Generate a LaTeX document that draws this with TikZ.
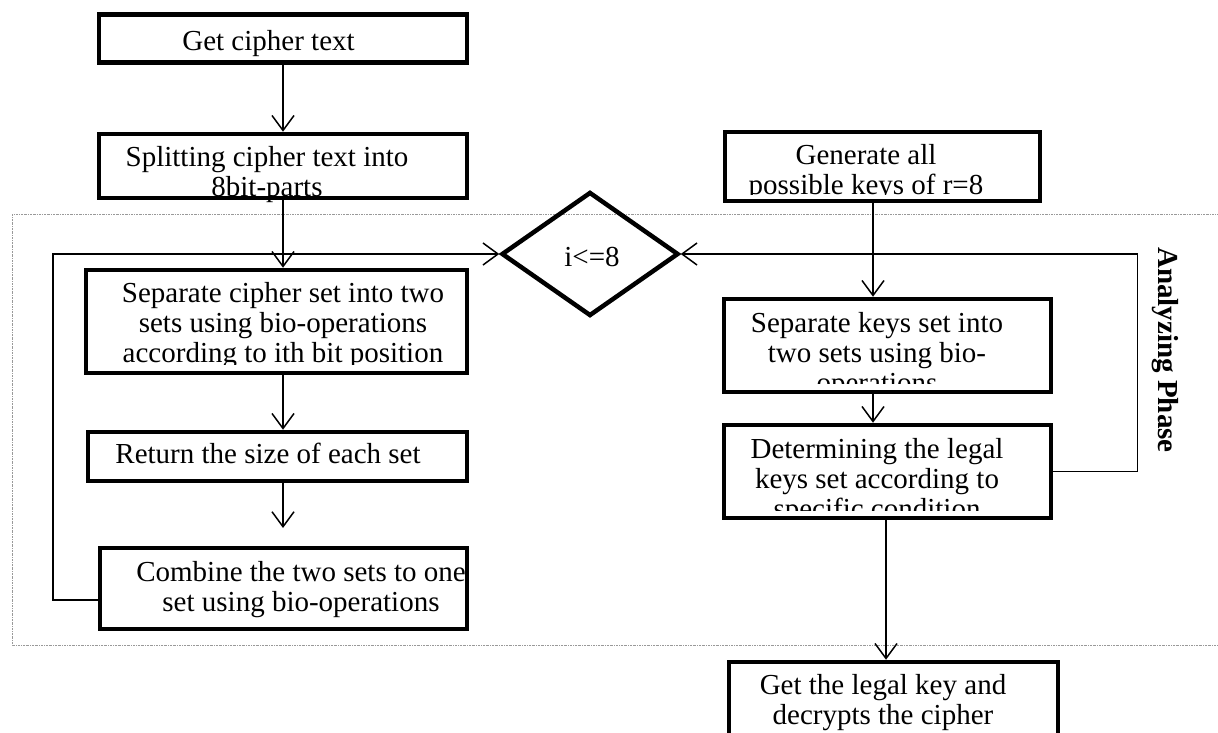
\documentclass[tikz,border=0pt]{standalone}
\usepackage{fontspec}
\setmainfont{Liberation Serif}
\usetikzlibrary{arrows.meta,shapes.geometric}
\begin{document}
\begin{tikzpicture}[x=1pt,y=-1pt,
  boxst/.style={draw, line width=4.5pt, inner sep=0pt, rectangle},
  txt/.style={font=\fontsize{29}{30}\selectfont, inner sep=0pt, align=center, anchor=base},
  arr/.style={line width=1.5pt, -{Straight Barb[length=15pt,width=22pt,line width=1.5pt]}},
  phase/.style={draw=gray!80, line width=1pt, dash pattern=on 2pt off 1pt on 0.6pt off 1pt}]
\useasboundingbox (0,0) rectangle (1218,733);
\clip (0,0) rectangle (1218,733);

% analysing phase frame
\draw[phase] (12,214) rectangle (1240,645);

% boxes
\node[boxst, minimum width=368pt, minimum height=48pt] (b1) at (283,38.5) {};
\node[boxst, minimum width=368pt, minimum height=64pt] (b2) at (283,166) {};
\node[boxst, minimum width=381pt, minimum height=103pt] (b3) at (276.5,321.5) {};
\node[boxst, minimum width=379pt, minimum height=49pt] (b4) at (277.5,456.5) {};
\node[boxst, minimum width=367pt, minimum height=81pt] (b5) at (283.5,588.5) {};
\node[boxst, minimum width=315pt, minimum height=69pt] (g) at (882.5,166.5) {};
\node[boxst, minimum width=327pt, minimum height=93pt] (k) at (887.5,345.5) {};
\node[boxst, minimum width=327pt, minimum height=93pt] (dt) at (887.5,471.5) {};
\node[boxst, minimum width=329pt, minimum height=116pt] (fin) at (893.5,720) {};
\node[draw, diamond, line width=4.5pt, inner sep=0pt, minimum width=177pt, minimum height=124pt] (d) at (590,254) {};

% texts (anchor=base is the baseline of the last line)
\node[txt] (t1) at (268.5,50.5) {Get cipher text};
\node[txt] (t2) at (267,196) {Splitting cipher text into\\8bit-parts};
\begin{scope}
  \clip ([shift={(2,2)}]b3.north west) rectangle ([shift={(-2,-11)}]b3.south east);
  \node[txt] (t3) at (283,362) {Separate cipher set into two\\sets using bio-operations\\according to ith bit position};
\end{scope}
\node[txt] (t4) at (268,463) {Return the size of each set};
\begin{scope}
  \clip ([shift={(2,2)}]b5.north west) rectangle ([shift={(-4,-2)}]b5.south east);
  \node[txt] (t5) at (301,611) {Combine the two sets to one\\set using bio-operations};
\end{scope}
\begin{scope}
  \clip ([shift={(2,2)}]g.north west) rectangle ([shift={(-2,-9)}]g.south east);
  \node[txt] (tg) at (866,194) {Generate all\\possible keys of r=8};
\end{scope}
\begin{scope}
  \clip ([shift={(2,2)}]k.north west) rectangle ([shift={(-2,-11)}]k.south east);
  \node[txt] (tk) at (877,392) {Separate keys set into\\two sets using bio-\\operations};
\end{scope}
\begin{scope}
  \clip ([shift={(2,2)}]dt.north west) rectangle ([shift={(-2,-10)}]dt.south east);
  \node[txt] (tdt) at (877,518) {Determining the legal\\keys set according to\\specific condition};
\end{scope}
\node[txt] (tfin) at (883,724) {Get the legal key and\\decrypts the cipher};
\node[txt] (td) at (592,266) {i<=8};
\node[font=\bfseries\fontsize{29}{30}\selectfont, inner sep=0pt, rotate=-90] (ph) at (1165,350) {Analyzing Phase};

% connectors
\coordinate (c4) at (283,528);
\coordinate (kx) at (873,0);
\coordinate (fx) at (886,0);
\draw[arr] (b1.south) -- (b2.north);
\draw[arr] (b2.south) -- (b2.south |- b3.north);
\draw[arr] (b2.south |- b3.south) -- (b2.south |- b4.north);
\draw[arr] (b2.south |- b4.south) -- (c4);
\draw[arr] ([yshift=-11.5pt]b5.west) -- ++(-45,0) |- (d.west);
\draw[arr] (g.south -| kx) -- (k.north -| kx);
\draw[arr] (k.south -| kx) -- (dt.north -| kx);
\draw[arr] (dt.south -| fx) -- (fin.north -| fx);
\draw[arr] (dt.east) -- ++(84,0) |- (d.east);
\end{tikzpicture}
\end{document}
